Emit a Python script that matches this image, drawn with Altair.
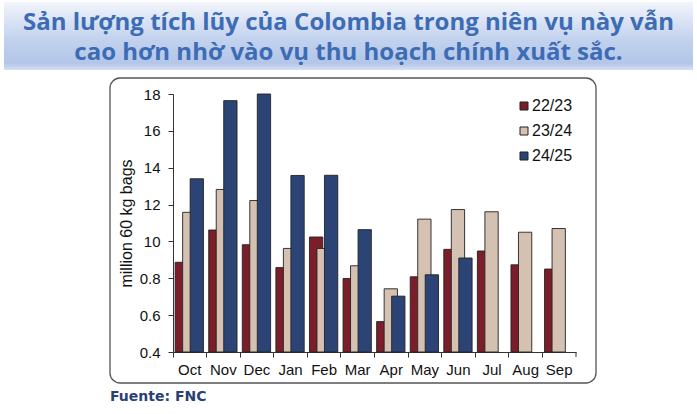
import altair as alt
import pandas as pd

# ---------------- data ----------------
months = ["Oct", "Nov", "Dec", "Jan", "Feb", "Mar", "Apr", "May", "Jun", "Jul", "Aug", "Sep"]
seasons = ["22/23", "23/24", "24/25"]
s2223 = [0.887, 1.062, 0.982, 0.858, 1.024, 0.799, 0.565, 0.808, 0.957, 0.948, 0.873, 0.850]
s2324 = [1.158, 1.282, 1.222, 0.962, 0.962, 0.868, 0.743, 1.121, 1.173, 1.161, 1.050, 1.070]
s2425 = [1.340, 1.764, 1.800, 1.358, 1.359, 1.064, 0.703, 0.819, 0.910, None, None, None]
y_ticks = [0.4, 0.6, 0.8, 1.0, 1.2, 1.4, 1.6, 1.8]
y_tick_labels = ["0.4", "0.6", "0.8", "10", "12", "14", "16", "18"]
title_lines = ["Sản lượng tích lũy của Colombia trong niên vụ này vẫn",
               "cao hơn nhờ vào vụ thu hoạch chính xuất sắc."]
y_title = "million 60 kg bags"
source_text = "Fuente: FNC"

colors = ["#7b1e29", "#d5c1b2", "#2c4475"]
offsets = [-8.0, -0.5, 7.0]

rows = []
for name, vals in zip(seasons, [s2223, s2324, s2425]):
    for m, v in zip(months, vals):
        rows.append({"month": m, "season": name, "value": v})
df = pd.DataFrame(rows)

W, H = 403, 258
one = pd.DataFrame({"a": [0]})

label_expr = " : ".join(
    f"abs(datum.value - {v}) < 0.001 ? '{t}'" for v, t in zip(y_ticks, y_tick_labels)
) + " : ''"

x_enc = alt.X("month:N", sort=months, scale=alt.Scale(paddingInner=0, paddingOuter=0),
              axis=alt.Axis(title=None, bandPosition=0, labelAngle=0, labelFont="Liberation Sans",
                            labelFontSize=15, labelColor="#111", tickSize=5, labelPadding=5,
                            domainColor="#333", tickColor="#333", grid=False))
y_enc = alt.Y("value:Q", scale=alt.Scale(domain=[0.4, 1.8], zero=False, nice=False),
              axis=alt.Axis(title=y_title, values=y_ticks, labelExpr=label_expr,
                            labelFont="Liberation Sans", labelFontSize=15, labelColor="#111",
                            titleFont="Liberation Sans", titleFontSize=16, titleFontWeight="normal",
                            titleColor="#111", titlePadding=5, tickSize=5, labelPadding=8,
                            domainColor="#333", tickColor="#333", grid=False))
color_enc = alt.Color("season:N", scale=alt.Scale(domain=seasons, range=colors),
                      legend=alt.Legend(title=None, orient="none", legendX=343, legendY=4,
                                        symbolType="square", symbolSize=64,
                                        symbolStrokeColor="#222", symbolStrokeWidth=1,
                                        labelFont="Liberation Sans", labelFontSize=16,
                                        labelColor="#111", rowPadding=9, labelOffset=0,
                                        padding=0))

bars = []
for name, off in zip(seasons, offsets):
    bars.append(
        alt.Chart(df).transform_filter(
            f"datum.season == '{name}' && isValid(datum.value)"
        ).mark_bar(width=13.3, xOffset=off, stroke="#222", strokeWidth=0.9, opacity=1).encode(
            x=x_enc, y=y_enc, y2=alt.datum(0.4), color=color_enc
        )
    )

banner = alt.Chart(one).mark_rect(
    color=alt.Gradient(gradient="linear", x1=0, x2=0, y1=0, y2=1,
                       stops=[alt.GradientStop(offset=0, color="#f2f5fb"),
                              alt.GradientStop(offset=0.55, color="#c2d2ee"),
                              alt.GradientStop(offset=0.9, color="#b3c6e8"),
                              alt.GradientStop(offset=1, color="#d6e0f1")])
).encode(x=alt.value(-169), x2=alt.value(520), y=alt.value(-92), y2=alt.value(-24))

title1 = alt.Chart(one).mark_text(
    font="Open Sans", fontSize=24, fontWeight="bold", color="#3d6cb5", align="center",
    baseline="alphabetic"
).encode(x=alt.value(175.5), y=alt.value(-64), text=alt.value(title_lines[0]))
title2 = alt.Chart(one).mark_text(
    font="Open Sans", fontSize=24, fontWeight="bold", color="#3d6cb5", align="center",
    baseline="alphabetic"
).encode(x=alt.value(175.5), y=alt.value(-34), text=alt.value(title_lines[1]))

frame = alt.Chart(one).mark_rect(
    fillOpacity=0, stroke="#555", strokeWidth=1.3, cornerRadius=10
).encode(x=alt.value(-63), x2=alt.value(423), y=alt.value(-16), y2=alt.value(289))

end_tick = alt.Chart(one).mark_rule(color="#333").encode(
    x=alt.value(W), y=alt.value(H), y2=alt.value(H + 5))

source = alt.Chart(one).mark_text(
    font="DejaVu Sans", fontSize=14, fontWeight="bold", color="#2a3f73", align="left",
    baseline="middle"
).encode(x=alt.value(-63), y=alt.value(303), text=alt.value(source_text))

chart = alt.layer(banner, title1, title2, frame, *bars, end_tick, source).properties(
    width=W, height=H,
    autosize=alt.AutoSizeParams(type="none"),
    padding={"left": 173, "top": 94, "right": 121, "bottom": 62},
    background="white",
).configure_view(stroke=None)

chart.save("out.html", embed_options={"renderer": "svg", "actions": False})
